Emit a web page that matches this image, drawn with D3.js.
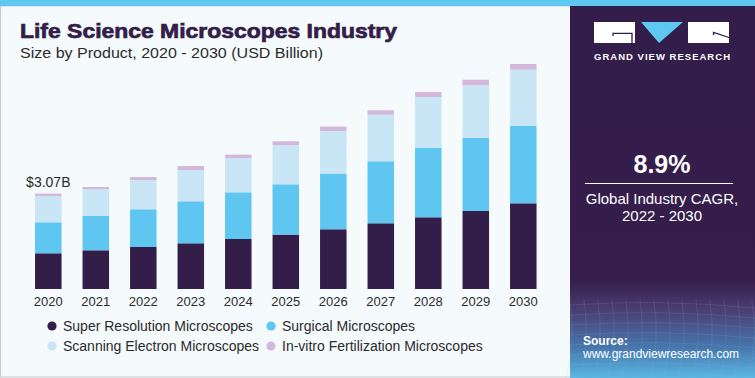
<!DOCTYPE html>
<html><head><meta charset="utf-8">
<script src="https://cdn.jsdelivr.net/npm/d3@7"></script>
<style>html,body{margin:0;padding:0;background:#f5fafc;}svg{display:block;}</style>
</head><body>
<svg id="c" width="755" height="378"></svg>
<script>
const years = ["2020","2021","2022","2023","2024","2025","2026","2027","2028","2029","2030"];
const seriesNames = ["Super Resolution Microscopes","Surgical Microscopes","Scanning Electron Microscopes","In-vitro Fertilization Microscopes"];
const superResolution = [1.149,1.246,1.352,1.471,1.609,1.751,1.922,2.115,2.308,2.510,2.758];
const surgical        = [0.998,1.104,1.213,1.352,1.503,1.619,1.793,1.996,2.240,2.350,2.498];
const scanningElectron= [0.846,0.859,0.933,1.007,1.104,1.255,1.371,1.500,1.632,1.696,1.802];
const ivf             = [0.077,0.074,0.106,0.129,0.109,0.129,0.142,0.142,0.161,0.180,0.183];
const colors = ["#331d49","#5ec6f0","#c9e6f6","#d4b8dc"];
const firstLabel = "$3.07B";

const svg = d3.select("#c");
const W = 755, H = 378;
const defs = svg.append("defs");

// background
svg.append("rect").attr("x",0).attr("y",0).attr("width",W).attr("height",H).attr("fill","#f5fafc");
svg.append("rect").attr("x",0.5).attr("y",6).attr("width",570).attr("height",371).attr("fill","#f5fafc").attr("stroke","#c8c8c8").attr("stroke-width",1);

// right panel
const g = defs.append("linearGradient").attr("id","pg").attr("x1",0).attr("y1",0).attr("x2",0).attr("y2",1);
g.append("stop").attr("offset","0").attr("stop-color","#331d4a");
g.append("stop").attr("offset","0.74").attr("stop-color","#351e4c");
g.append("stop").attr("offset","0.82").attr("stop-color","#4a3e72");
g.append("stop").attr("offset","0.92").attr("stop-color","#4677ae");
g.append("stop").attr("offset","1").attr("stop-color","#5bb7e2");
svg.append("rect").attr("x",570).attr("y",0).attr("width",185).attr("height",H).attr("fill","url(#pg)");
// mesh hint
const mesh = svg.append("g").attr("stroke","#8fb6dc").attr("stroke-opacity",0.22).attr("fill","none").attr("stroke-width",0.7);
for (let i=0;i<14;i++){
  const x = 570 + i*14;
  mesh.append("path").attr("d",`M${x},300 Q${x+6},340 ${x-4},378`);
}
for (let j=0;j<8;j++){
  const y = 305 + j*10;
  mesh.append("path").attr("d",`M570,${y} Q660,${y-6} 755,${y+3}`);
}
// top stripe
svg.append("rect").attr("x",0).attr("y",0).attr("width",W).attr("height",6).attr("fill","#5ec8f0");

// titles
svg.append("text").attr("x",20).attr("y",38).text("Life Science Microscopes Industry")
  .attr("font-family","Liberation Sans, Arial, sans-serif").attr("font-weight","bold").attr("font-size",20.5)
  .attr("fill","#331d49").attr("stroke","#331d49").attr("stroke-width",0.7).attr("textLength",377).attr("lengthAdjust","spacingAndGlyphs");
svg.append("text").attr("x",20).attr("y",57.5).text("Size by Product, 2020 - 2030 (USD Billion)")
  .attr("font-family","Liberation Sans, Arial, sans-serif").attr("font-size",15).attr("fill","#2b2b2b")
  .attr("textLength",303).attr("lengthAdjust","spacingAndGlyphs");

// scales
const x = d3.scaleBand().domain(years).range([24.55,547.05]).paddingInner(0.442).paddingOuter(0.221);
const y = d3.scaleLinear().domain([0,8]).range([289,289-8*31.07]);

const rows = years.map((yr,i)=>({year:yr, s0:superResolution[i], s1:surgical[i], s2:scanningElectron[i], s3:ivf[i]}));
const stack = d3.stack().keys(["s0","s1","s2","s3"])(rows);
svg.append("g").selectAll("g").data(stack).join("g").attr("fill",(d,i)=>colors[i])
  .selectAll("rect").data(d=>d).join("rect")
  .attr("x",d=>x(d.data.year)).attr("width",x.bandwidth())
  .attr("y",d=>y(d[1])).attr("height",d=>y(d[0])-y(d[1]));

// x axis
const xa = svg.append("g").attr("transform","translate(0,289)").call(d3.axisBottom(x).tickSize(0).tickPadding(8));
xa.select(".domain").remove();
xa.selectAll("text").attr("font-family","Liberation Sans, Arial, sans-serif").attr("font-size",13).attr("fill","#2b2b2b");

// first bar label
const tot0 = superResolution[0]+surgical[0]+scanningElectron[0]+ivf[0];
svg.append("text").attr("x",x(years[0])+x.bandwidth()/2).attr("y",y(tot0)-7).attr("text-anchor","middle")
  .text(firstLabel).attr("font-family","Liberation Sans, Arial, sans-serif").attr("font-size",14).attr("fill","#2b2b2b");

// legend
const legPos = [[52,326],[271,326],[52,346],[271,346]];
const order = [0,1,2,3];
const leg = svg.append("g").attr("font-family","Liberation Sans, Arial, sans-serif").attr("font-size",14).attr("fill","#2b2b2b");
order.forEach((k,i)=>{
  const [lx,ly] = legPos[i];
  leg.append("circle").attr("cx",lx).attr("cy",ly).attr("r",4.6).attr("fill",colors[k]);
  leg.append("text").attr("x",lx+11).attr("y",ly+4.8).text(seriesNames[k]);
});

// logo
const logo = svg.append("g");
logo.append("rect").attr("x",594).attr("y",22).attr("width",41).attr("height",21).attr("fill","#ffffff");
logo.append("path").attr("d","M641,22 L683,22 L659,43 Z").attr("fill","#5ec8f0");
logo.append("rect").attr("x",688).attr("y",22).attr("width",41).attr("height",21).attr("fill","#ffffff");
logo.append("path").attr("d","M613,36 V33.3 H632 V43").attr("stroke","#331d4a").attr("stroke-width",1.3).attr("fill","none");
logo.append("path").attr("d","M713.5,35 V32.5 L729,37.5").attr("stroke","#331d4a").attr("stroke-width",1.3).attr("fill","none");
svg.append("text").attr("x",662).attr("y",60).attr("text-anchor","middle").text("GRAND VIEW RESEARCH")
  .attr("font-family","Liberation Sans, Arial, sans-serif").attr("font-weight","bold").attr("font-size",9.5).attr("fill","#ffffff")
  .attr("textLength",136).attr("lengthAdjust","spacing");

// CAGR
svg.append("text").attr("x",662).attr("y",173).attr("text-anchor","middle").text("8.9%")
  .attr("font-family","Liberation Sans, Arial, sans-serif").attr("font-weight","bold").attr("font-size",25).attr("fill","#ffffff");
svg.append("line").attr("x1",585).attr("x2",733).attr("y1",183.5).attr("y2",183.5).attr("stroke","#ffffff").attr("stroke-width",1);
svg.append("text").attr("x",662).attr("y",204).attr("text-anchor","middle").text("Global Industry CAGR,")
  .attr("font-family","Liberation Sans, Arial, sans-serif").attr("font-size",15).attr("fill","#ffffff");
svg.append("text").attr("x",662).attr("y",221).attr("text-anchor","middle").text("2022 - 2030")
  .attr("font-family","Liberation Sans, Arial, sans-serif").attr("font-size",15).attr("fill","#ffffff");

// source
svg.append("text").attr("x",583).attr("y",345).text("Source:")
  .attr("font-family","Liberation Sans, Arial, sans-serif").attr("font-weight","bold").attr("font-size",12).attr("fill","#ffffff");
svg.append("text").attr("x",583).attr("y",357.5).text("www.grandviewresearch.com")
  .attr("font-family","Liberation Sans, Arial, sans-serif").attr("font-size",12).attr("fill","#ffffff");
</script>
</body></html>
